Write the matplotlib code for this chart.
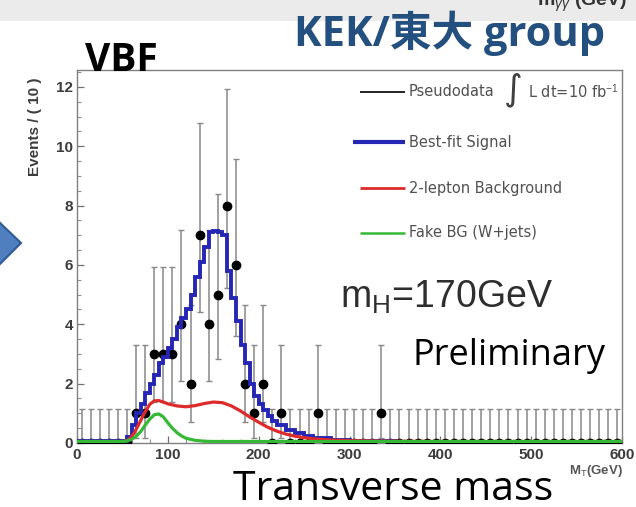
import numpy as np
import matplotlib
matplotlib.use("Agg")
import matplotlib.pyplot as plt
from matplotlib.patches import Polygon, Rectangle
from matplotlib.ticker import MultipleLocator

plt.rcParams['mathtext.fontset'] = 'custom'
plt.rcParams['mathtext.rm'] = 'Liberation Sans'
plt.rcParams['mathtext.it'] = 'Liberation Sans:italic'
plt.rcParams['mathtext.bf'] = 'Liberation Sans:bold'

# ---------------- data ----------------
bin_width = 10
bin_centers = np.arange(5, 600, bin_width)
counts = [0, 0, 0, 0, 0, 0, 1, 1, 3, 3,
          3, 4, 2, 7, 4, 5, 8, 6, 2, 1,
          2, 0, 1, 0, 0, 0, 1, 0, 0, 0,
          0, 0, 0, 1, 0, 0, 0, 0, 0, 0,
          0, 0, 0, 0, 0, 0, 0, 0, 0, 0,
          0, 0, 0, 0, 0, 0, 0, 0, 0, 0]
# Poisson (Garwood) error bars, indexed by count
poisson_lo = [0.0, 0.827, 1.292, 1.633, 1.914, 2.159, 2.379, 2.580, 2.768]
poisson_hi = [1.148, 2.299, 2.638, 2.918, 3.162, 3.382, 3.583, 3.770, 3.945]

# Best-fit signal (stepped curve)
signal_edges = [0, 55, 60, 65, 70, 75, 80, 85, 90, 95, 100, 105, 110, 115, 120,
                125, 130, 135, 140, 145, 150, 155, 160, 165, 170, 175, 180, 185,
                190, 195, 200, 205, 210, 215, 220, 230, 240, 250, 260, 280, 300,
                350, 600]
signal_vals = [0.07, 0.2, 0.6, 1.0, 1.3, 1.7, 2.0, 2.3, 2.7, 2.9, 3.2, 3.5, 3.9,
               4.2, 4.5, 5.0, 5.6, 6.1, 6.6, 7.1, 7.15, 7.1, 7.0, 5.8, 4.9, 4.1,
               3.3, 2.7, 2.0, 1.6, 1.3, 1.1, 0.9, 0.75, 0.6, 0.45, 0.33, 0.25,
               0.17, 0.1, 0.07, 0.05]

# 2-lepton background
bkg_x = [0, 50, 55, 60, 65, 70, 75, 80, 85, 90, 95, 100, 110, 120, 130, 140, 150,
         160, 170, 180, 190, 200, 210, 220, 230, 240, 250, 260, 270, 280, 300,
         320, 350, 400, 600]
bkg_y = [0.05, 0.05, 0.08, 0.2, 0.45, 0.75, 1.05, 1.3, 1.42, 1.43, 1.38, 1.32,
         1.25, 1.22, 1.26, 1.33, 1.38, 1.36, 1.25, 1.08, 0.88, 0.7, 0.53, 0.4,
         0.3, 0.23, 0.18, 0.14, 0.12, 0.1, 0.08, 0.07, 0.06, 0.05, 0.05]

# Fake BG (W+jets)
fake_x = [0, 50, 55, 60, 65, 70, 75, 80, 85, 90, 95, 100, 105, 110, 115, 120,
          130, 140, 150, 600]
fake_y = [0.05, 0.05, 0.07, 0.12, 0.22, 0.38, 0.6, 0.8, 0.95, 0.98, 0.88, 0.68,
          0.5, 0.35, 0.24, 0.16, 0.09, 0.06, 0.05, 0.05]

legend_labels = ["Pseudodata", "Best-fit Signal", "2-lepton Background",
                 "Fake BG (W+jets)"]
x_ticks = [0, 100, 200, 300, 400, 500, 600]
y_ticks = [0, 2, 4, 6, 8, 10, 12]

# ---------------- figure ----------------
W, H = 636, 507
fig = plt.figure(figsize=(W / 100, H / 100), dpi=100)
fig.patch.set_facecolor('white')

def fx(px):
    return px / W

def fy(py):
    return 1 - py / H

# top grey band of the slide
fig.patches.append(Rectangle((0, fy(21)), 1, 21 / H, transform=fig.transFigure,
                             facecolor='#ebebeb', edgecolor='none', zorder=0))

ax_l, ax_r, ax_t, ax_b = 77, 622, 70, 443
ax = fig.add_axes([fx(ax_l), fy(ax_b), (ax_r - ax_l) / W, (ax_b - ax_t) / H])
ax.set_xlim(0, 600)
ax.set_ylim(0, 12.57)

lo = [poisson_lo[c] for c in counts]
hi = [poisson_hi[c] for c in counts]
ax.errorbar(bin_centers, counts, yerr=[lo, hi], fmt='none', ecolor='#888888',
            elinewidth=1.1, capsize=2.3, capthick=1.0, zorder=2)
ax.plot(bin_centers, counts, 'o', color='black', markersize=6, zorder=3)

ax.stairs(signal_vals, signal_edges, baseline=None, color='#2626b4', lw=2.8,
          zorder=4)
ax.plot(bkg_x, bkg_y, color='#dd2a2a', lw=2.3, zorder=5)
ax.plot(fake_x, fake_y, color='#35b835', lw=2.3, zorder=6)

for s in ax.spines.values():
    s.set_color('#808080')
    s.set_linewidth(1.0)

ax.set_xticks(x_ticks)
ax.set_yticks(y_ticks)
ax.xaxis.set_minor_locator(MultipleLocator(20))
ax.yaxis.set_minor_locator(MultipleLocator(0.5))
ax.tick_params(axis='both', which='major', direction='in', length=5,
               width=0.9, color='#707070')
ax.tick_params(axis='both', which='minor', direction='in', length=2.6,
               width=0.8, color='#909090')
ax.tick_params(axis='x', pad=3.5)
ax.tick_params(axis='y', pad=3)
for lab in ax.get_xticklabels() + ax.get_yticklabels():
    lab.set_fontfamily('Liberation Sans')
    lab.set_fontweight('bold')
    lab.set_fontsize(11)
    lab.set_color('#3c3c3c')

fig.text(fx(35), fy(127), "Events / ( 10 )", rotation=90, ha='center',
         va='center', fontsize=11, fontweight='bold', color='#3c3c3c',
         family='Liberation Sans')
fig.text(fx(623), fy(474), r"M$_{\rm T}$(GeV)", ha='right', va='baseline',
         fontsize=9.5, fontweight='bold', color='#555555',
         family='Liberation Sans')

# legend (drawn inside the axes, positions in figure pixels)
def ax_pt(px, py):
    return (px - ax_l) / (ax_r - ax_l), (ax_b - py) / (ax_b - ax_t)

leg_rows = [92, 142, 188, 233]
leg_colors = ['black', '#2626b4', '#dd2a2a', '#35b835']
leg_lw = [1.2, 3.0, 2.0, 1.8]
leg_x0 = [360, 353, 360, 360]
for lab, row, col, lw, x0 in zip(legend_labels, leg_rows, leg_colors, leg_lw,
                                 leg_x0):
    (a0, b0), (a1, _) = ax_pt(x0, row), ax_pt(405, row)
    ax.plot([a0, a1], [b0, b0], transform=ax.transAxes, color=col, lw=lw,
            zorder=8, solid_capstyle='butt')
    tx, ty = ax_pt(409, row)
    ax.text(tx, ty, lab, transform=ax.transAxes, ha='left', va='center',
            fontsize=10.5, color='#505050', family='DejaVu Sans', zorder=8)
ix, iy = ax_pt(513, 90)
ax.text(ix, iy, "\u222b", transform=ax.transAxes, ha='center', va='center',
        fontsize=26, color='#404040', family='DejaVu Sans', zorder=8)
lx, ly = ax_pt(528, 92)
ax.text(lx, ly, r"L dt=10 fb$^{-1}$", transform=ax.transAxes, ha='left',
        va='center', fontsize=10.5, color='#505050', family='DejaVu Sans',
        zorder=8)

# slide overlay texts
fig.text(fx(340), fy(308), r"m$_{\rm H}$=170GeV", ha='left', va='baseline',
         fontsize=27, color='#2e2e2e', family='Liberation Sans')
fig.text(fx(412), fy(365), "Preliminary", ha='left', va='baseline',
         fontsize=26, color='black', family='Open Sans')
fig.text(fx(233), fy(500), "Transverse mass", ha='left', va='baseline',
         fontsize=29.5, color='black', family='Open Sans')
fig.text(fx(85), fy(71), "VBF", ha='left', va='baseline', fontsize=28,
         fontweight='bold', color='black', family='Open Sans')
fig.text(fx(294), fy(46), "KEK/\u6771\u5927 group", ha='left', va='baseline',
         fontsize=30, fontweight='bold', color='#23507f',
         family=['Open Sans', 'Noto Sans CJK JP'])
fig.text(fx(537), fy(6), r"m$_{\gamma\gamma}$ (GeV)", ha='left',
         va='baseline', fontsize=14, fontweight='bold', color='#333333',
         family='Liberation Sans')

# blue chevron on the left edge
fig.patches.append(Polygon([(fx(-2), fy(221)), (fx(21), fy(243)),
                            (fx(-2), fy(266))], closed=True,
                           transform=fig.transFigure, facecolor='#4f7fbf',
                           edgecolor='#2f5b94', lw=1.5, zorder=1))

fig.savefig("out.png", dpi=100)
